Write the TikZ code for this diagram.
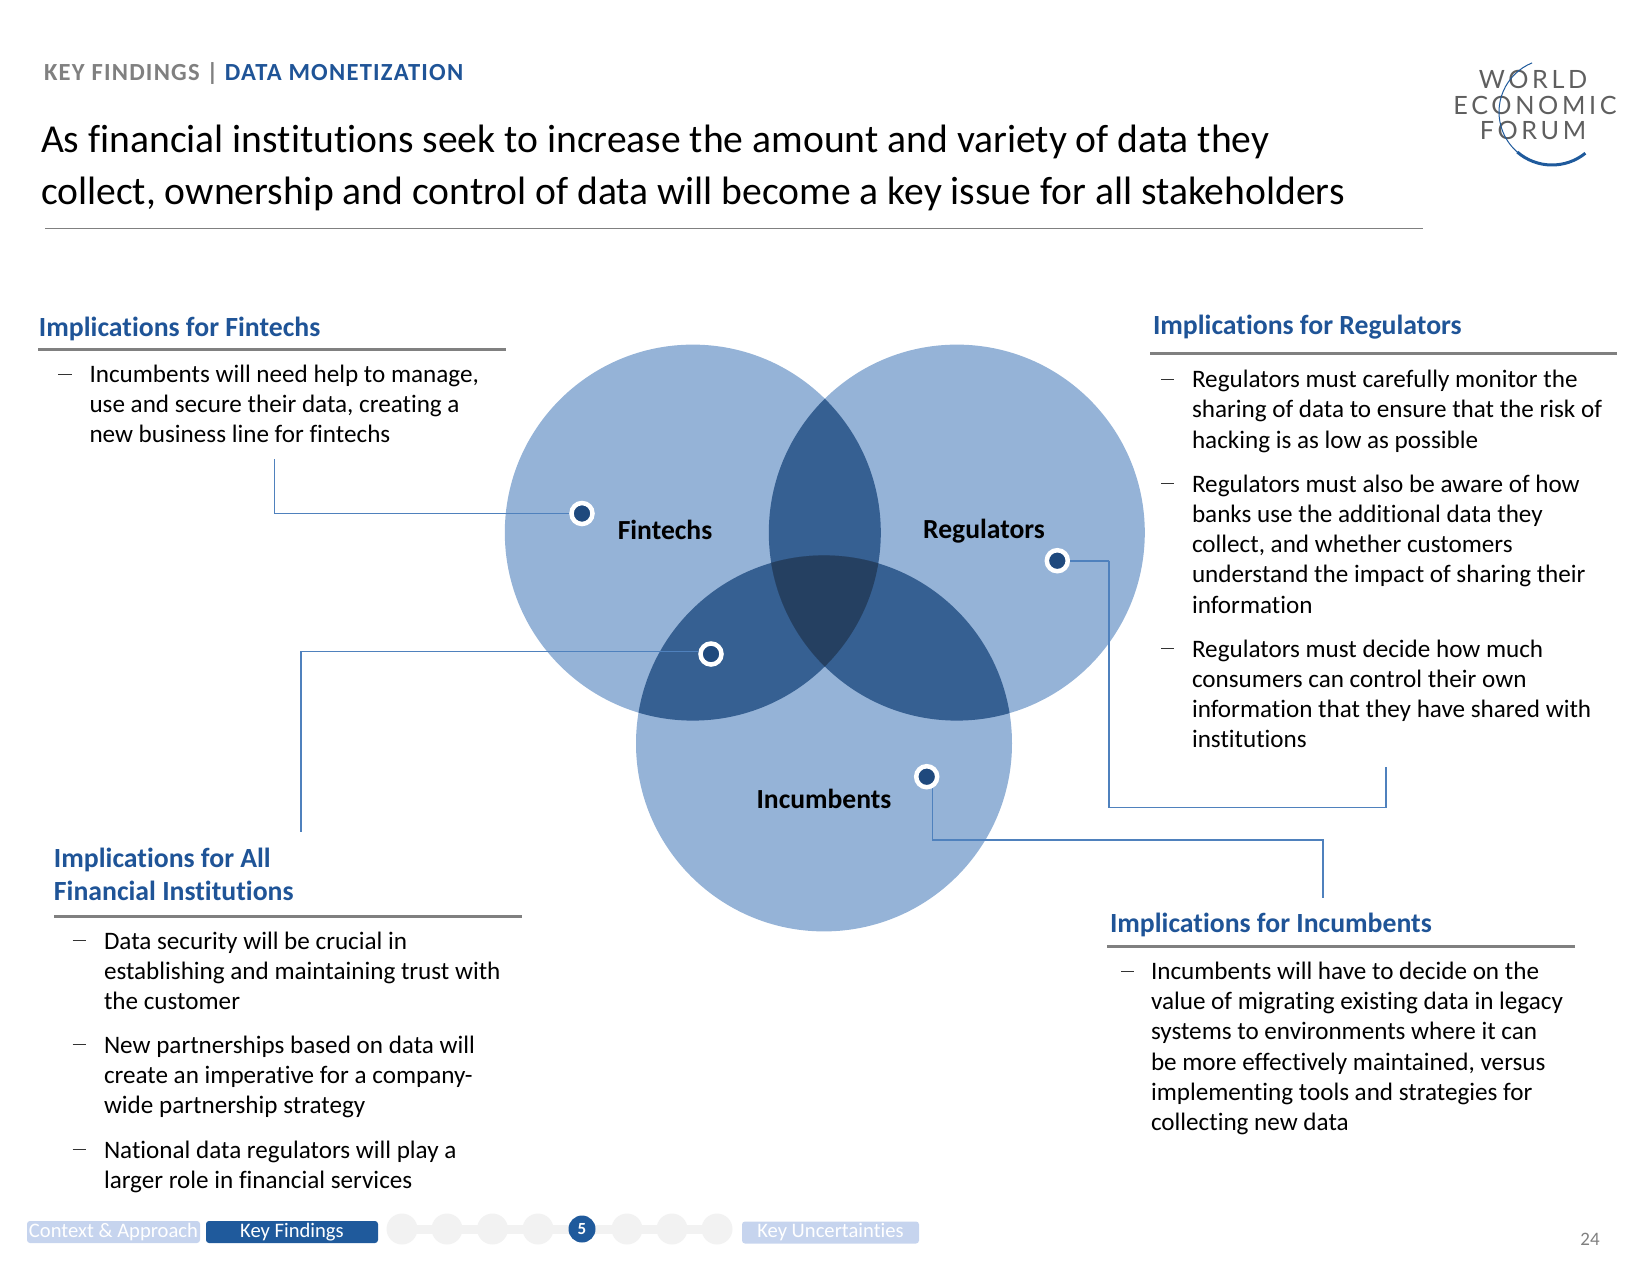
\documentclass[tikz,border=0pt]{standalone}
\usepackage{fontspec}
\setmainfont[Ligatures=NoCommon]{Carlito}
\newfontfamily\logofont{Lato}
\definecolor{headblue}{HTML}{1F5497}
\definecolor{ruleg}{HTML}{808080}
\definecolor{light}{HTML}{95B3D7}
\definecolor{mid}{HTML}{366092}
\definecolor{deep}{HTML}{254061}
\definecolor{navy}{HTML}{1F497D}
\definecolor{link}{HTML}{4F81BD}
\definecolor{pale}{HTML}{C6D4EE}
\definecolor{barblue}{HTML}{1F5A9C}
\definecolor{stepg}{HTML}{F2F2F2}
\definecolor{logog}{HTML}{5F5F5F}
\tikzset{
  x=0.5pt,y=-0.5pt,
  lab/.style={inner sep=0pt,outer sep=0pt},
  head/.style={lab,anchor=base west,font=\fontsize{13.87}{16.4}\selectfont\bfseries,text=headblue},
  secrule/.style={draw=ruleg,line width=1.5pt},
  body/.style={lab,anchor=base west,align=left,font=\fontsize{12.57}{15.15}\selectfont,text=black},
  dashmark/.style={draw=black!80,line width=0.4pt},
  venn/.style={circle,fill=light,minimum size=188pt,inner sep=0pt},
  vennlab/.style={lab,font=\fontsize{13.8}{16}\selectfont\bfseries},
  linkline/.style={draw=link,line width=0.85pt},
  dotmark/.style={circle,fill=navy,draw=white,line width=2.25pt,minimum size=10.5pt,inner sep=0pt},
  navbox/.style={lab,rounded corners=1.5pt,minimum height=11pt,font=\fontsize{10.3}{12}\selectfont,text=white},
  stepdot/.style={circle,fill=stepg,minimum size=15.5pt,inner sep=0pt},
  logotext/.style={lab,anchor=base,text=logog,font=\logofont\fontsize{12.6}{14}\selectfont\addfontfeature{LetterSpace=14.5}},
}
\begin{document}
\begin{tikzpicture}
\useasboundingbox (0,0) rectangle (1650,1275);
% header
\node[lab,anchor=base west,font=\fontsize{12.3}{14}\selectfont\bfseries\addfontfeature{LetterSpace=5}] (kicker) at (44,80) {\textcolor{ruleg}{KEY FINDINGS | }\textcolor{headblue}{DATA MONETIZATION}};
\node[lab,anchor=base west,align=left,font=\fontsize{19.8}{26}\selectfont] (title) at (41,204.6) {As financial institutions seek to increase the amount and variety of data they\\collect, ownership and control of data will become a key issue for all stakeholders};
\draw[draw=ruleg,line width=0.5pt] (45,228.5) -- (1423,228.5);
% logo
\node[logotext] (lw) at (1533,88) {WORLD};
\node[logotext] (le) at (1535,114) {ECONOMIC};
\node[logotext] (lf) at (1533,139) {FORUM};
\draw[draw=barblue,line width=0.5pt] (1552,112) ++(112:26.5pt) arc[start angle=112,end angle=232,radius=26.5pt];
\draw[draw=barblue,line width=1.5pt] (1552,112) ++(229:26.5pt) arc[start angle=229,end angle=309,radius=26.5pt];
% venn
\node[venn] (fin) at (692.8,532.6) {};
\node[venn] (reg) at (956.8,532.6) {};
\node[venn] (inc) at (824,743.4) {};
\begin{scope}
  \clip (fin.center) circle[radius=94pt];
  \fill[mid] (reg.center) circle[radius=94pt];
  \fill[mid] (inc.center) circle[radius=94pt];
  \clip (reg.center) circle[radius=94pt];
  \fill[deep] (inc.center) circle[radius=94pt];
\end{scope}
\begin{scope}
  \clip (reg.center) circle[radius=94pt];
  \fill[mid] (inc.center) circle[radius=94pt];
  \clip (fin.center) circle[radius=94pt];
  \fill[deep] (inc.center) circle[radius=94pt];
\end{scope}
\node[vennlab] (lfin) at (665,530) {Fintechs};
\node[vennlab] (lreg) at (984,531) {Regulators};
\node[vennlab] (linc) at (824,799) {Incumbents};
% connectors
\coordinate (e1) at (274.6,459);
\coordinate (e2) at (301,832);
\coordinate (e3) at (1386,767);
\coordinate (e4) at (1323,898);
\coordinate (b2) at (301,651.5);
\coordinate (b3a) at (1109.3,560.7);
\coordinate (b3b) at (1109.3,807.5);
\coordinate (b3c) at (1386,807.5);
\coordinate (b4a) at (932.4,780);
\coordinate (b4b) at (932.4,840);
\coordinate (b4c) at (1323,840);
\coordinate (c1) at (582,513.5);
\draw[linkline] (b4a) -- (b4b) -- (b4c) -- (e4);
\draw[linkline] (b3a) -- (b3b) -- (b3c) -- (e3);
\draw[linkline] (c1) -| (e1);
\node[dotmark] (d1) at (c1) {};
\node[dotmark] (d2) at (711,654) {};
\node[dotmark] (d3) at (1057.3,560.7) {};
\node[dotmark] (d4) at (926.7,776.7) {};
\draw[linkline] (d2.west|-b2) -- (b2) -- (e2);
\draw[linkline] (d3.east) -- (b3a);
% fintechs
\node[head] (hf) at (39,336) {Implications for Fintechs};
\draw[secrule] (38,349.3) -- (506,349.3);
\draw[dashmark] (58,374.3) -- (72,374.3);
\node[body] (tf) at (89.5,442.6) {Incumbents will need help to manage,\\use and secure their data, creating a\\new business line for fintechs};
% regulators
\node[head] (hr) at (1153,334.5) {Implications for Regulators};
\draw[secrule] (1150,353.5) -- (1617,353.5);
\draw[dashmark] (1161,379.5) -- (1174,379.5);
\node[body] (tr1) at (1192,448.2) {Regulators must carefully monitor the\\sharing of data to ensure that the risk of\\hacking is as low as possible};
\draw[dashmark] (1161,483.5) -- (1174,483.5);
\node[body] (tr2) at (1192,613.2) {Regulators must also be aware of how\\banks use the additional data they\\collect, and whether customers\\understand the impact of sharing their\\information};
\draw[dashmark] (1161,648.5) -- (1174,648.5);
\node[body] (tr3) at (1192,747.9) {Regulators must decide how much\\consumers can control their own\\information that they have shared with\\institutions};
% incumbents
\node[head] (hi) at (1110,932) {Implications for Incumbents};
\draw[secrule] (1107,946.5) -- (1575,946.5);
\draw[dashmark] (1121,971) -- (1134,971);
\node[body] (ti) at (1151,1130.8) {Incumbents will have to decide on the\\value of migrating existing data in legacy\\systems to environments where it can\\be more effectively maintained, versus\\implementing tools and strategies for\\collecting new data};
% all FIs
\node[head,align=left] (ha) at (54,900) {Implications for All\\Financial Institutions};
\draw[secrule] (54,916.8) -- (522,916.8);
\draw[dashmark] (72.5,940) -- (86,940);
\node[body] (ta1) at (104,1009.6) {Data security will be crucial in\\establishing and maintaining trust with\\the customer};
\draw[dashmark] (72.5,1044) -- (86,1044);
\node[body] (ta2) at (104,1113.6) {New partnerships based on data will\\create an imperative for a company-\\wide partnership strategy};
\draw[dashmark] (72.5,1149.6) -- (86,1149.6);
\node[body] (ta3) at (104,1188.9) {National data regulators will play a\\larger role in financial services};
% footer
\draw[draw=stepg,line width=4.5pt] (402,1229) -- (717,1229);
\foreach \n/\px in {s1/402,s2/447,s3/492.5,s4/538,s6/627,s7/672,s8/717}{
  \node[stepdot] (\n) at (\px,1229) {};
}
\node[circle,fill=barblue,minimum size=13.5pt,inner sep=0pt,text=white,font=\fontsize{8.5}{10}\selectfont\bfseries] (s5) at (582,1229) {5};
\node[navbox,fill=pale,minimum width=86.5pt] (n1) at (113.5,1232) {\raisebox{-0.4pt}{Context \& Approach}};
\node[navbox,fill=barblue,minimum width=86pt] (n2) at (292,1232) {\raisebox{-0.4pt}{Key Findings}};
\node[navbox,fill=pale,minimum width=88.5pt] (n3) at (830.5,1232.5) {\raisebox{-0.6pt}{Key Uncertainties}};
\node[lab,text=ruleg,font=\fontsize{9.5}{12}\selectfont] (pg) at (1590,1239.5) {24};
\end{tikzpicture}
\end{document}
